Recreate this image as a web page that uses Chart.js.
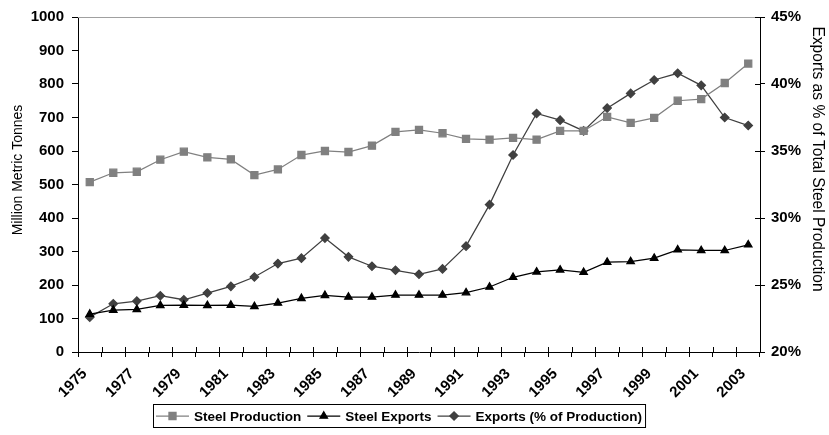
<!DOCTYPE html>
<html>
<head>
<meta charset="utf-8">
<script src="https://cdn.jsdelivr.net/npm/chart.js@4"></script>
<style>
  html, body { margin: 0; padding: 0; background: #fff; }
  #wrap { width: 829px; height: 435px; }
</style>
</head>
<body>
<div id="wrap"><canvas id="steelChart" width="829" height="435"></canvas></div>
<script>
const years = ["1975", "1976", "1977", "1978", "1979", "1980", "1981", "1982", "1983", "1984",
               "1985", "1986", "1987", "1988", "1989", "1990", "1991", "1992", "1993", "1994",
               "1995", "1996", "1997", "1998", "1999", "2000", "2001", "2002", "2003"];

// million metric tonnes
const steelProduction = [507, 535, 538, 574, 598, 581, 575, 528, 545, 588,
                         600, 597, 616, 657, 663, 653, 636, 634, 639, 634,
                         660, 660, 702, 684, 699, 750, 755, 803, 861];
const steelExports = [113, 125, 127, 139, 140, 139, 140, 136, 146, 160,
                      169, 164, 164, 170, 170, 170, 177, 194, 223, 239,
                      245, 238, 268, 270, 280, 305, 303, 303, 320];
// percent of production
const exportsPct = [22.6, 23.6, 23.8, 24.2, 23.9, 24.4, 24.9, 25.6, 26.6, 27.0,
                    28.5, 27.1, 26.4, 26.1, 25.8, 26.2, 27.9, 31.0, 34.7, 37.8,
                    37.3, 36.5, 38.2, 39.3, 40.3, 40.8, 39.9, 37.5, 36.9];

const leftTitle = "Million Metric Tonnes";
const rightTitle = "Exports as % of Total Steel Production";

const FONT = "'Liberation Sans', Arial, sans-serif";

// plot top border + ticks that cross the axis line (x axis and right axis)
const innerTicks = {
    id: "innerTicks",
    afterDraw(chart) {
        const { ctx, chartArea, scales } = chart;
        ctx.save();
        ctx.strokeStyle = "#a0a0a0";
        ctx.lineWidth = 1;
        ctx.beginPath();
        ctx.moveTo(chartArea.left, chartArea.top + 0.5);
        ctx.lineTo(chartArea.right, chartArea.top + 0.5);
        ctx.stroke();
        ctx.strokeStyle = "#000";
        ctx.beginPath();
        const half = (scales.x.getPixelForValue(1) - scales.x.getPixelForValue(0)) / 2;
        for (let i = 0; i <= years.length; i++) {
            const px = Math.round(scales.x.getPixelForValue(i) - half) + 0.5;
            ctx.moveTo(px, chartArea.bottom - 5);
            ctx.lineTo(px, chartArea.bottom);
        }
        scales.y1.ticks.forEach(t => {
            const py = Math.round(scales.y1.getPixelForValue(t.value)) + 0.5;
            ctx.moveTo(chartArea.right - 5, py);
            ctx.lineTo(chartArea.right, py);
        });
        ctx.stroke();
        ctx.restore();
    }
};

// axis titles
const axisTitles = {
    id: "axisTitles",
    afterDraw(chart) {
        const { ctx } = chart;
        ctx.save();
        ctx.fillStyle = "#000";
        ctx.textAlign = "center";
        ctx.textBaseline = "middle";
        ctx.font = "14px " + FONT;
        ctx.translate(18, 170);
        ctx.rotate(-Math.PI / 2);
        ctx.fillText(leftTitle, 0, 0);
        ctx.restore();

        ctx.save();
        ctx.fillStyle = "#000";
        ctx.textAlign = "center";
        ctx.textBaseline = "middle";
        ctx.font = "15.6px " + FONT;
        ctx.translate(817, 159);
        ctx.rotate(Math.PI / 2);
        ctx.fillText(rightTitle, 0, 0);
        ctx.restore();
    }
};

// boxed legend with line + marker symbols
const boxLegend = {
    id: "boxLegend",
    afterDraw(chart) {
        const { ctx } = chart;
        const sets = chart.data.datasets;
        const symW = 33, gap = 5, sep = 6, padX = 3;
        ctx.save();
        ctx.font = "bold 13.5px " + FONT;
        const widths = sets.map(ds => ctx.measureText(ds.label).width);
        let total = padX * 2;
        widths.forEach((w, i) => { total += symW + gap + w + (i < sets.length - 1 ? sep : 0); });
        const top = 404, h = 23;
        let x = Math.round(399 - total / 2);
        ctx.strokeStyle = "#000";
        ctx.lineWidth = 1;
        ctx.strokeRect(x + 0.5, top + 0.5, total, h);
        x += padX;
        const cy = top + h / 2 + 0.5;
        sets.forEach((ds, i) => {
            ctx.strokeStyle = ds.borderColor;
            ctx.lineWidth = 1.25;
            ctx.beginPath();
            ctx.moveTo(x, cy);
            ctx.lineTo(x + symW, cy);
            ctx.stroke();
            ctx.fillStyle = ds.backgroundColor;
            Chart.helpers.drawPoint(ctx, { pointStyle: ds.pointStyle, radius: ds.pointRadius, borderWidth: 1, rotation: 0 }, x + symW / 2, cy);
            x += symW + gap;
            ctx.fillStyle = "#000";
            ctx.textAlign = "left";
            ctx.textBaseline = "middle";
            ctx.fillText(ds.label, x, cy + 1);
            x += widths[i] + sep;
        });
        ctx.restore();
    }
};

const tickFont = { family: FONT, size: 15, weight: "bold" };

new Chart(document.getElementById("steelChart"), {
    type: "line",
    data: {
        labels: years,
        datasets: [{
            label: "Steel Production",
            data: steelProduction,
            yAxisID: "y",
            borderColor: "#808080",
            backgroundColor: "#808080",
            borderWidth: 1.25,
            pointStyle: "rect",
            pointRadius: 5,
            tension: 0
        }, {
            label: "Steel Exports",
            data: steelExports,
            yAxisID: "y",
            borderColor: "#000000",
            backgroundColor: "#000000",
            borderWidth: 1.25,
            pointStyle: "triangle",
            pointRadius: 4.3,
            tension: 0
        }, {
            label: "Exports (% of Production)",
            data: exportsPct,
            yAxisID: "y1",
            borderColor: "#404040",
            backgroundColor: "#404040",
            borderWidth: 1.25,
            pointStyle: "rectRot",
            pointRadius: 4.2,
            tension: 0
        }]
    },
    options: {
        responsive: false,
        animation: false,
        layout: { padding: { top: 13, bottom: 35, left: 0, right: 0 } },
        plugins: {
            legend: { display: false },
            tooltip: { enabled: false }
        },
        scales: {
            x: {
                offset: true,
                grid: { offset: true, drawOnChartArea: false, tickLength: 5, tickColor: "#000" },
                border: { color: "#000", width: 1 },
                ticks: {
                    autoSkip: false,
                    minRotation: 45,
                    maxRotation: 45,
                    padding: 8,
                    labelOffset: -5,
                    color: "#000",
                    font: tickFont,
                    callback: function (v, i) { return i % 2 === 0 ? this.getLabelForValue(v) : ""; }
                },
                afterFit(scale) { scale.height = 48; }
            },
            y: {
                position: "left",
                min: 0,
                max: 1000,
                grid: { drawOnChartArea: false, tickColor: "#000", tickLength: 6 },
                border: { color: "#000", width: 1 },
                ticks: {
                    stepSize: 100,
                    padding: 8,
                    color: "#000",
                    font: tickFont,
                    callback: v => String(v)
                },
                afterFit(scale) { scale.width = 78; }
            },
            y1: {
                position: "right",
                min: 20,
                max: 45,
                grid: { drawOnChartArea: false, tickColor: "#000", tickLength: 5 },
                border: { color: "#000", width: 1 },
                ticks: {
                    stepSize: 5,
                    padding: 6,
                    color: "#000",
                    font: tickFont,
                    callback: v => v + "%"
                },
                afterFit(scale) { scale.width = 69; }
            }
        }
    },
    plugins: [innerTicks, axisTitles, boxLegend]
});
</script>
</body>
</html>
